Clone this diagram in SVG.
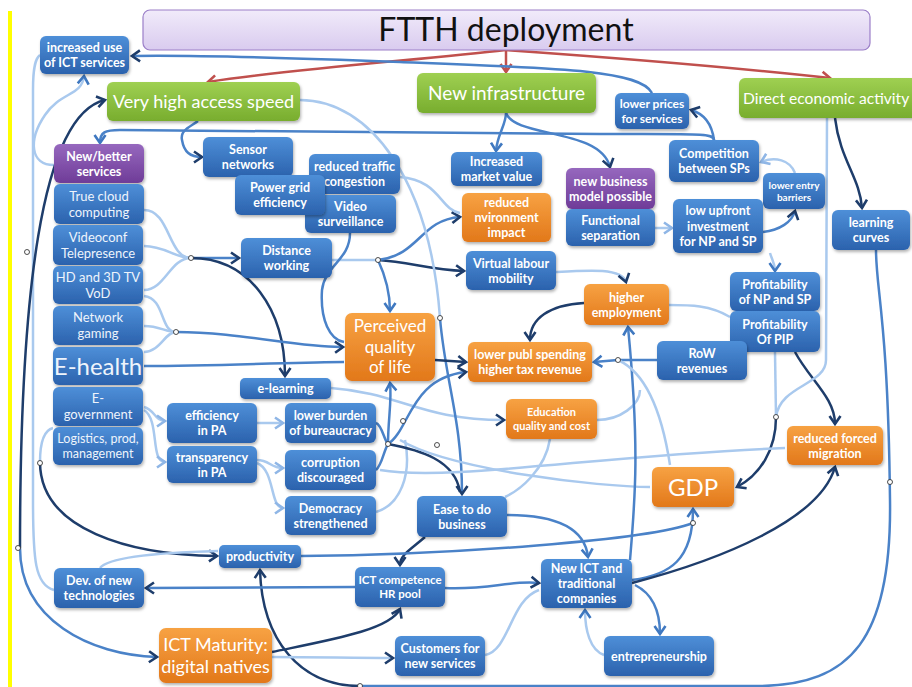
<svg xmlns="http://www.w3.org/2000/svg" width="912" height="687" viewBox="0 0 912 687">
<defs>
<linearGradient id="gBlue" x1="0" y1="0" x2="0" y2="1"><stop offset="0" stop-color="#4e8fd8"/><stop offset="1" stop-color="#2b62ad"/></linearGradient>
<linearGradient id="gOrange" x1="0" y1="0" x2="0" y2="1"><stop offset="0" stop-color="#f7a243"/><stop offset="1" stop-color="#e2781a"/></linearGradient>
<linearGradient id="gGreen" x1="0" y1="0" x2="0" y2="1"><stop offset="0" stop-color="#9fd052"/><stop offset="1" stop-color="#78ad2e"/></linearGradient>
<linearGradient id="gPurple" x1="0" y1="0" x2="0" y2="1"><stop offset="0" stop-color="#9668be"/><stop offset="1" stop-color="#6f3c98"/></linearGradient>
<linearGradient id="gTitle" x1="0" y1="0" x2="0" y2="1"><stop offset="0" stop-color="#f1ebfa"/><stop offset="1" stop-color="#d9cbef"/></linearGradient>
<filter id="sh" x="-10%" y="-10%" width="125%" height="135%"><feDropShadow dx="1" dy="2" stdDeviation="1.4" flood-color="#000" flood-opacity="0.3"/></filter>
<marker id="aN" markerUnits="userSpaceOnUse" markerWidth="14" markerHeight="14" refX="10" refY="7" orient="auto"><path d="M2,1.5 L10,7 L2,12.5" fill="none" stroke="#1e3d6b" stroke-width="2.6"/></marker>
<marker id="aM" markerUnits="userSpaceOnUse" markerWidth="14" markerHeight="14" refX="10" refY="7" orient="auto"><path d="M2,1.5 L10,7 L2,12.5" fill="none" stroke="#3f78c0" stroke-width="2.6"/></marker>
<marker id="aL" markerUnits="userSpaceOnUse" markerWidth="14" markerHeight="14" refX="10" refY="7" orient="auto"><path d="M2,1.5 L10,7 L2,12.5" fill="none" stroke="#8fb6e6" stroke-width="2.6"/></marker>
<marker id="aR" markerUnits="userSpaceOnUse" markerWidth="14" markerHeight="14" refX="10" refY="7" orient="auto"><path d="M2,1.5 L10,7 L2,12.5" fill="none" stroke="#c0504d" stroke-width="2.6"/></marker>
</defs>
<style>
.cl{fill:none;stroke:#a9c9ee;stroke-width:2.5}
.cm{fill:none;stroke:#4a82c8;stroke-width:2.5}
.cn{fill:none;stroke:#1e3d6b;stroke-width:2.5}
.cr{fill:none;stroke:#c0504d;stroke-width:2.5}
.j{fill:#fff;stroke:#222;stroke-width:0.8}
.b{fill:url(#gBlue);filter:url(#sh)}
.o{fill:url(#gOrange);filter:url(#sh)}
.g{fill:url(#gGreen);filter:url(#sh)}
.p{fill:url(#gPurple);filter:url(#sh)}
text{font-family:Lato,"Liberation Sans",sans-serif;fill:#fff;text-anchor:middle}
.t{font-size:12.5px;font-weight:700}
.s{font-size:11.5px;font-weight:700}
.a{font-size:13px;font-weight:400;fill:#eef4fc}
</style>
<rect x="0" y="0" width="912" height="687" fill="#fff"/>
<rect x="8" y="11" width="4" height="676" fill="#ffff00"/>

<g id="connectors">
<path class="cr" d="M506 50 C420 60,300 68,208 82" marker-end="url(#aR)"/>
<path class="cr" d="M506 50 L506 72" marker-end="url(#aR)"/>
<path class="cr" d="M506 50 C620 58,740 68,830 78" marker-end="url(#aR)"/>

<path class="cm" d="M652 93 C640 70,560 68,400 62 S180 55,132 56" marker-end="url(#aN)"/>
<path class="cm" d="M714 140 C712 125,705 114,691 110" marker-end="url(#aN)"/>
<path class="cl" d="M795 173 C790 160,775 156,761 162" marker-end="url(#aL)"/>
<path class="cm" d="M763 232 C780 230,792 222,795 211" marker-end="url(#aN)"/>
<path class="cl" d="M770 253 C772 260,775 263,775 271" marker-end="url(#aM)"/>
<path class="cl" d="M655 228 L672 228" marker-end="url(#aL)"/>
<path class="cm" d="M506 113 C506 125,497 135,496 151" marker-end="url(#aM)"/>
<path class="cm" d="M506 113 C515 138,600 128,610 167" marker-end="url(#aN)"/>
<path class="cm" d="M714 140 C714 133,700 134,600 134 L120 130 C105 130,100 132,100 143" marker-end="url(#aM)"/>
<path class="cm" d="M198 121 C190 127,180 130,182 140 C184 152,190 157,202 157" marker-end="url(#aN)"/>
<path class="cl" d="M54 165 C30 165,28 140,45 115 C60 92,82 96,84 76" marker-end="url(#aM)"/>
<path class="cl" d="M54 590 C35 585,33 560,33 500 L33 90 C33 65,36 58,40 55"/>
<path class="cn" d="M20 548 C20 300,40 115,105 100" marker-end="url(#aN)"/>
<path class="cm" d="M20 548 C20 620,90 655,157 657" marker-end="url(#aN)"/>
<path class="cn" d="M40 462 C40 530,130 555,217 556" marker-end="url(#aN)"/>
<path class="cl" d="M40 462 C40 440,45 430,53 428"/>

<path class="cl" d="M144 210 C170 210,168 258,191 258"/>
<path class="cl" d="M144 246 C165 246,175 258,191 258"/>
<path class="cl" d="M144 290 C165 290,170 258,191 258"/>
<path class="cm" d="M191 258 L239 258" marker-end="url(#aN)"/>
<path class="cn" d="M191 258 C250 258,285 310,285 376" marker-end="url(#aN)"/>
<path class="cl" d="M144 326 C160 326,165 332,176 332"/>
<path class="cl" d="M144 296 C165 298,160 332,176 332"/>
<path class="cl" d="M144 352 C160 352,165 332,176 332"/>
<path class="cm" d="M176 332 C240 332,300 348,343 347" marker-end="url(#aN)"/>
<path class="cm" d="M144 366 C220 366,300 362,344 362"/>
<path class="cl" d="M331 388 C400 393,420 420,504 420" marker-end="url(#aN)"/>
<path class="cl" d="M332 260 L378 260"/>
<path class="cm" d="M378 260 C385 275,390 290,390 311" marker-end="url(#aM)"/>
<path class="cn" d="M378 260 C410 262,430 270,464 271" marker-end="url(#aN)"/>
<path class="cm" d="M378 260 C420 255,420 220,460 217" marker-end="url(#aN)"/>
<path class="cl" d="M400 177 C440 180,440 210,460 213"/>
<path class="cl" d="M300 100 C370 100,430 180,440 318"/>
<path class="cm" d="M440 318 C445 380,462 420,462 494" marker-end="url(#aN)"/>
<path class="cm" d="M350 233 C350 260,325 265,322 290 C320 320,330 340,344 342"/>
<path class="cn" d="M435 360 L466 362" marker-end="url(#aN)"/>
<path class="cm" d="M376 423 C382 425,384 440,388 444"/>
<path class="cm" d="M376 470 C382 465,384 450,388 444"/>
<path class="cl" d="M376 512 C400 505,412 475,405 440"/>
<path class="cm" d="M388 444 C388 420,392 400,390 383" marker-end="url(#aM)"/>
<path class="cm" d="M388 444 C410 430,410 378,466 372" marker-end="url(#aN)"/>
<path class="cn" d="M388 444 C420 450,455 460,460 492"/>
<path class="cl" d="M257 423 L283 423" marker-end="url(#aL)"/>
<path class="cl" d="M257 460 C270 460,270 468,283 468" marker-end="url(#aL)"/>
<path class="cl" d="M257 463 C275 470,270 508,283 508" marker-end="url(#aL)"/>
<path class="cl" d="M144 407 C155 410,155 421,165 421" marker-end="url(#aL)"/>
<path class="cl" d="M144 410 C160 420,150 462,165 462" marker-end="url(#aL)"/>
<path class="cn" d="M584 303 C550 305,530 318,530 340" marker-end="url(#aN)"/>
<path class="cl" d="M556 272 C590 270,622 268,626 282" marker-end="url(#aN)"/>
<path class="cm" d="M657 360 L618 360 L594 362" marker-end="url(#aM)"/>
<path class="cl" d="M730 317 C710 305,690 305,669 305"/>
<path class="cn" d="M795 352 C810 380,835 398,835 424" marker-end="url(#aN)"/>
<path class="cl" d="M775 352 L776 417"/>
<path class="cn" d="M776 417 C776 450,760 475,737 487" marker-end="url(#aN)"/>
<path class="cl" d="M827 118 L826 360 C826 385,780 385,776 417"/>
<path class="cn" d="M835 118 C840 160,860 178,862 208" marker-end="url(#aN)"/>
<path class="cm" d="M876 250 C876 290,888 320,890 500 C892 640,850 685,760 686 L360 686"/>
<path class="cn" d="M360 686 C300 686,262 640,260 570" marker-end="url(#aN)"/>
<path class="cm" d="M632 580 C670 575,693 560,693 509" marker-end="url(#aM)"/>
<path class="cn" d="M632 583 C720 560,820 520,835 467" marker-end="url(#aN)"/>
<path class="cm" d="M635 585 C655 595,660 615,660 634" marker-end="url(#aM)"/>
<path class="cl" d="M604 655 C590 650,585 630,585 610" marker-end="url(#aM)"/>
<path class="cm" d="M507 515 C560 515,585 530,588 557" marker-end="url(#aM)"/>
<path class="cn" d="M425 537 C410 550,400 555,400 565" marker-end="url(#aN)"/>
<path class="cm" d="M445 588 C490 590,510 580,539 583" marker-end="url(#aN)"/>
<path class="cl" d="M485 655 C510 650,510 600,539 590"/>
<path class="cl" d="M272 657 C320 657,350 658,393 658" marker-end="url(#aN)"/>
<path class="cn" d="M272 652 C330 640,390 630,400 609" marker-end="url(#aN)"/>
<path class="cm" d="M355 587 L146 588" marker-end="url(#aN)"/>
<path class="cl" d="M100 568 C110 555,180 552,218 551"/>
<path class="cm" d="M301 556 C450 555,650 540,693 523"/>
<path class="cl" d="M380 470 C450 482,600 455,785 448"/>
<path class="cl" d="M400 440 C450 470,600 487,650 487"/>
<path class="cl" d="M550 439 C545 470,520 490,505 497"/>
<path class="cl" d="M597 420 C620 420,640 405,640 390"/>
<path class="cm" d="M630 560 C635 500,640 450,628 327" marker-end="url(#aM)"/>
<path class="cl" d="M618 360 C640 370,660 400,670 465"/>
<circle class="j" cx="191" cy="258" r="2.5"/>
<circle class="j" cx="176" cy="332" r="2.5"/>
<circle class="j" cx="378" cy="260" r="2.5"/>
<circle class="j" cx="388" cy="444" r="2.5"/>
<circle class="j" cx="440" cy="318" r="2.5"/>
<circle class="j" cx="437" cy="445" r="2.5"/>
<circle class="j" cx="403" cy="421" r="2.5"/>
<circle class="j" cx="618" cy="360" r="2.5"/>
<circle class="j" cx="776" cy="417" r="2.5"/>
<circle class="j" cx="693" cy="523" r="2.5"/>
<circle class="j" cx="27" cy="252" r="2.5"/>
<circle class="j" cx="40" cy="463" r="2.5"/>
<circle class="j" cx="18" cy="548" r="2.5"/>
<circle class="j" cx="890" cy="482" r="2.5"/>
<circle class="j" cx="360" cy="686" r="2.5"/>
</g>

<g id="title"><rect x="143" y="10" width="727" height="40" rx="7" fill="url(#gTitle)" stroke="#9b7fc8" stroke-width="1.2"/><text x="506" y="41" style="font-size:32px;fill:#111">FTTH deployment</text></g>

<g id="n-increased"><rect class="b" x="40" y="36" width="89" height="38" rx="6"/><text class="t" x="84.5" y="51.9">increased use</text><text class="t" x="84.5" y="67.1">of ICT services</text></g>
<g id="n-vhas"><rect class="g" x="107" y="82" width="193" height="39" rx="6"/><text x="203.5" y="108" style="font-size:18px">Very high access speed</text></g>
<g id="n-newinfra"><rect class="g" x="417" y="73" width="179" height="40" rx="6"/><text x="506.5" y="100" style="font-size:19px">New infrastructure</text></g>
<g id="n-direct"><rect class="g" x="739" y="78" width="186" height="40" rx="6"/><text x="743" y="103.5" style="font-size:15.6px;text-anchor:start">Direct economic activity</text></g>
<g id="n-lowprices"><rect class="b" x="615" y="93" width="74" height="36" rx="6"/><text class="t" x="652" y="108" style="font-size:12px">lower prices</text><text class="t" x="652" y="122.5" style="font-size:12px">for services</text></g>
<g id="n-competition"><rect class="b" x="669" y="140" width="90" height="42" rx="6"/><text class="t" x="714" y="158">Competition</text><text class="t" x="714" y="173.2">between SPs</text></g>
<g id="n-entry"><rect class="b" x="763" y="173" width="62" height="36" rx="6"/><text x="794" y="188.5" style="font-size:10px;font-weight:700">lower entry</text><text x="794" y="200.7" style="font-size:10px;font-weight:700">barriers</text></g>
<g id="n-learning"><rect class="b" x="832" y="210" width="78" height="40" rx="6"/><text class="t" x="871" y="227">learning</text><text class="t" x="871" y="242.2">curves</text></g>

<g id="n-newbetter"><rect class="p" x="54" y="144" width="90" height="39" rx="6"/><text class="t" x="99" y="160.5">New/better</text><text class="t" x="99" y="175.7">services</text></g>
<g id="n-cloud"><rect class="b" x="54" y="184" width="90" height="40" rx="6"/><text class="a" x="99" y="200.9">True cloud</text><text class="a" x="99" y="216.5">computing</text></g>
<g id="n-videoconf"><rect class="b" x="53" y="225" width="90" height="40" rx="6"/><text class="a" x="98" y="241.9">Videoconf</text><text class="a" x="98" y="257.5">Telepresence</text></g>
<g id="n-hdtv"><rect class="b" x="53" y="266" width="90" height="38" rx="6"/><text class="a" x="98" y="281.9">HD and 3D TV</text><text class="a" x="98" y="297.5">VoD</text></g>
<g id="n-gaming"><rect class="b" x="53" y="306" width="90" height="39" rx="6"/><text class="a" x="98" y="322.4">Network</text><text class="a" x="98" y="338">gaming</text></g>
<g id="n-ehealth"><rect class="b" x="53" y="347" width="90" height="38" rx="6"/><text x="98" y="374.5" style="font-size:24px;fill:#eef4fc">E-health</text></g>
<g id="n-egov"><rect class="b" x="53" y="387" width="90" height="39" rx="6"/><text class="a" x="98" y="403.4">E-</text><text class="a" x="98" y="419">government</text></g>
<g id="n-logistics"><rect class="b" x="53" y="427" width="90" height="38" rx="6"/><text class="a" x="98" y="443" style="font-size:12.5px">Logistics, prod,</text><text class="a" x="98" y="458" style="font-size:12.5px">management</text></g>

<g id="n-sensor"><rect class="b" x="203" y="137" width="90" height="40" rx="6"/><text class="t" x="248" y="154">Sensor</text><text class="t" x="248" y="169.2">networks</text></g>
<g id="n-traffic"><rect class="b" x="309" y="154" width="91" height="40" rx="6"/><text class="t" x="354.5" y="171">reduced traffic</text><text class="t" x="354.5" y="186.2">congestion</text></g>
<g id="n-video"><rect class="b" x="305" y="195" width="91" height="38" rx="6"/><text class="t" x="350.5" y="211">Video</text><text class="t" x="350.5" y="226.2">surveillance</text></g>
<g id="n-powergrid"><rect class="b" x="235" y="175" width="90" height="40" rx="6"/><text class="t" x="280" y="192">Power grid</text><text class="t" x="280" y="207.2">efficiency</text></g>
<g id="n-distance"><rect class="b" x="241" y="238" width="91" height="40" rx="6"/><text class="t" x="286.5" y="255">Distance</text><text class="t" x="286.5" y="270.2">working</text></g>
<g id="n-market"><rect class="b" x="451" y="152" width="91" height="34" rx="6"/><text class="t" x="496.5" y="166">Increased</text><text class="t" x="496.5" y="181.2">market value</text></g>
<g id="n-env"><rect class="o" x="462" y="193" width="89" height="49" rx="6"/><text class="t" x="506.5" y="206.8">reduced</text><text class="t" x="506.5" y="222">nvironment</text><text class="t" x="506.5" y="237.2">impact</text></g>
<g id="n-newbiz"><rect class="p" x="566" y="168" width="89" height="41" rx="6"/><text class="t" x="610.5" y="185.5">new business</text><text class="t" x="610.5" y="200.7">model possible</text></g>
<g id="n-functional"><rect class="b" x="566" y="209" width="89" height="37" rx="6"/><text class="t" x="610.5" y="224.5">Functional</text><text class="t" x="610.5" y="239.7">separation</text></g>
<g id="n-upfront"><rect class="b" x="673" y="199" width="90" height="54" rx="6"/><text class="t" x="718" y="215.3">low upfront</text><text class="t" x="718" y="230.5">investment</text><text class="t" x="718" y="245.7">for NP and SP</text></g>
<g id="n-virtual"><rect class="b" x="466" y="251" width="90" height="39" rx="6"/><text class="t" x="511" y="267.5">Virtual labour</text><text class="t" x="511" y="282.7">mobility</text></g>
<g id="n-employment"><rect class="o" x="584" y="284" width="85" height="41" rx="6"/><text class="t" x="626.5" y="301.5">higher</text><text class="t" x="626.5" y="316.7">employment</text></g>
<g id="n-profnp"><rect class="b" x="730" y="272" width="90" height="39" rx="6"/><text class="t" x="775" y="288.5">Profitability</text><text class="t" x="775" y="303.7">of NP and SP</text></g>
<g id="n-profpip"><rect class="b" x="730" y="311" width="90" height="41" rx="6"/><text class="t" x="775" y="328.5">Profitability</text><text class="t" x="775" y="343.7">Of PIP</text></g>
<g id="n-row"><rect class="b" x="657" y="341" width="90" height="39" rx="6"/><text class="t" x="702" y="357.5">RoW</text><text class="t" x="702" y="372.7">revenues</text></g>
<g id="n-migration"><rect class="o" x="787" y="426" width="96" height="39" rx="6"/><text class="t" x="835" y="442.5">reduced forced</text><text class="t" x="835" y="457.7">migration</text></g>
<g id="n-quality"><rect class="o" x="345" y="313" width="90" height="68" rx="7"/><text x="390" y="332" style="font-size:17px">Perceived</text><text x="390" y="352.5" style="font-size:17px">quality</text><text x="390" y="373" style="font-size:17px">of life</text></g>
<g id="n-publ"><rect class="o" x="468" y="342" width="124" height="40" rx="6"/><text class="t" x="530" y="359">lower publ spending</text><text class="t" x="530" y="374.2">higher tax revenue</text></g>
<g id="n-elearning"><rect class="b" x="240" y="378" width="91" height="21" rx="5"/><text class="t" x="285.5" y="393">e-learning</text></g>
<g id="n-education"><rect class="o" x="506" y="399" width="91" height="40" rx="6"/><text class="s" x="551.5" y="416.2" style="font-size:11px">Education</text><text class="s" x="551.5" y="429.7" style="font-size:11px">quality and cost</text></g>
<g id="n-efficiency"><rect class="b" x="167" y="403" width="90" height="40" rx="6"/><text class="t" x="212" y="420">efficiency</text><text class="t" x="212" y="435.2">in PA</text></g>
<g id="n-burden"><rect class="b" x="285" y="403" width="91" height="40" rx="6"/><text class="t" x="330.5" y="420">lower burden</text><text class="t" x="330.5" y="435.2">of bureaucracy</text></g>
<g id="n-transparency"><rect class="b" x="167" y="446" width="90" height="37" rx="6"/><text class="t" x="212" y="461.5">transparency</text><text class="t" x="212" y="476.7">in PA</text></g>
<g id="n-corruption"><rect class="b" x="285" y="450" width="91" height="40" rx="6"/><text class="t" x="330.5" y="467">corruption</text><text class="t" x="330.5" y="482.2">discouraged</text></g>
<g id="n-democracy"><rect class="b" x="285" y="496" width="91" height="39" rx="6"/><text class="t" x="330.5" y="512.5">Democracy</text><text class="t" x="330.5" y="527.7">strengthened</text></g>
<g id="n-ease"><rect class="b" x="417" y="496" width="90" height="41" rx="6"/><text class="t" x="462" y="513.5">Ease to do</text><text class="t" x="462" y="528.7">business</text></g>
<g id="n-gdp"><rect class="o" x="652" y="467" width="82" height="40" rx="6"/><text x="693" y="495.5" style="font-size:24px">GDP</text></g>
<g id="n-productivity"><rect class="b" x="219" y="545" width="82" height="23" rx="5"/><text class="t" x="260" y="561">productivity</text></g>
<g id="n-devtech"><rect class="b" x="54" y="568" width="90" height="40" rx="6"/><text class="t" x="99" y="585">Dev. of new</text><text class="t" x="99" y="600.2">technologies</text></g>
<g id="n-hrpool"><rect class="b" x="355" y="567" width="90" height="40" rx="6"/><text class="s" x="400" y="584.1">ICT competence</text><text class="s" x="400" y="598.1">HR pool</text></g>
<g id="n-newict"><rect class="b" x="541" y="559" width="91" height="49" rx="6"/><text class="t" x="586.5" y="572.8">New ICT and</text><text class="t" x="586.5" y="588">traditional</text><text class="t" x="586.5" y="603.2">companies</text></g>
<g id="n-maturity"><rect class="o" x="159" y="628" width="113" height="55" rx="7"/><text x="215.5" y="651.2" style="font-size:18px">ICT Maturity:</text><text x="215.5" y="672.8" style="font-size:18px">digital natives</text></g>
<g id="n-customers"><rect class="b" x="395" y="636" width="90" height="40" rx="6"/><text class="t" x="440" y="653">Customers for</text><text class="t" x="440" y="668.2">new services</text></g>
<g id="n-entrepreneurship"><rect class="b" x="604" y="636" width="110" height="40" rx="6"/><text class="t" x="659" y="660.5">entrepreneurship</text></g>
</svg>
